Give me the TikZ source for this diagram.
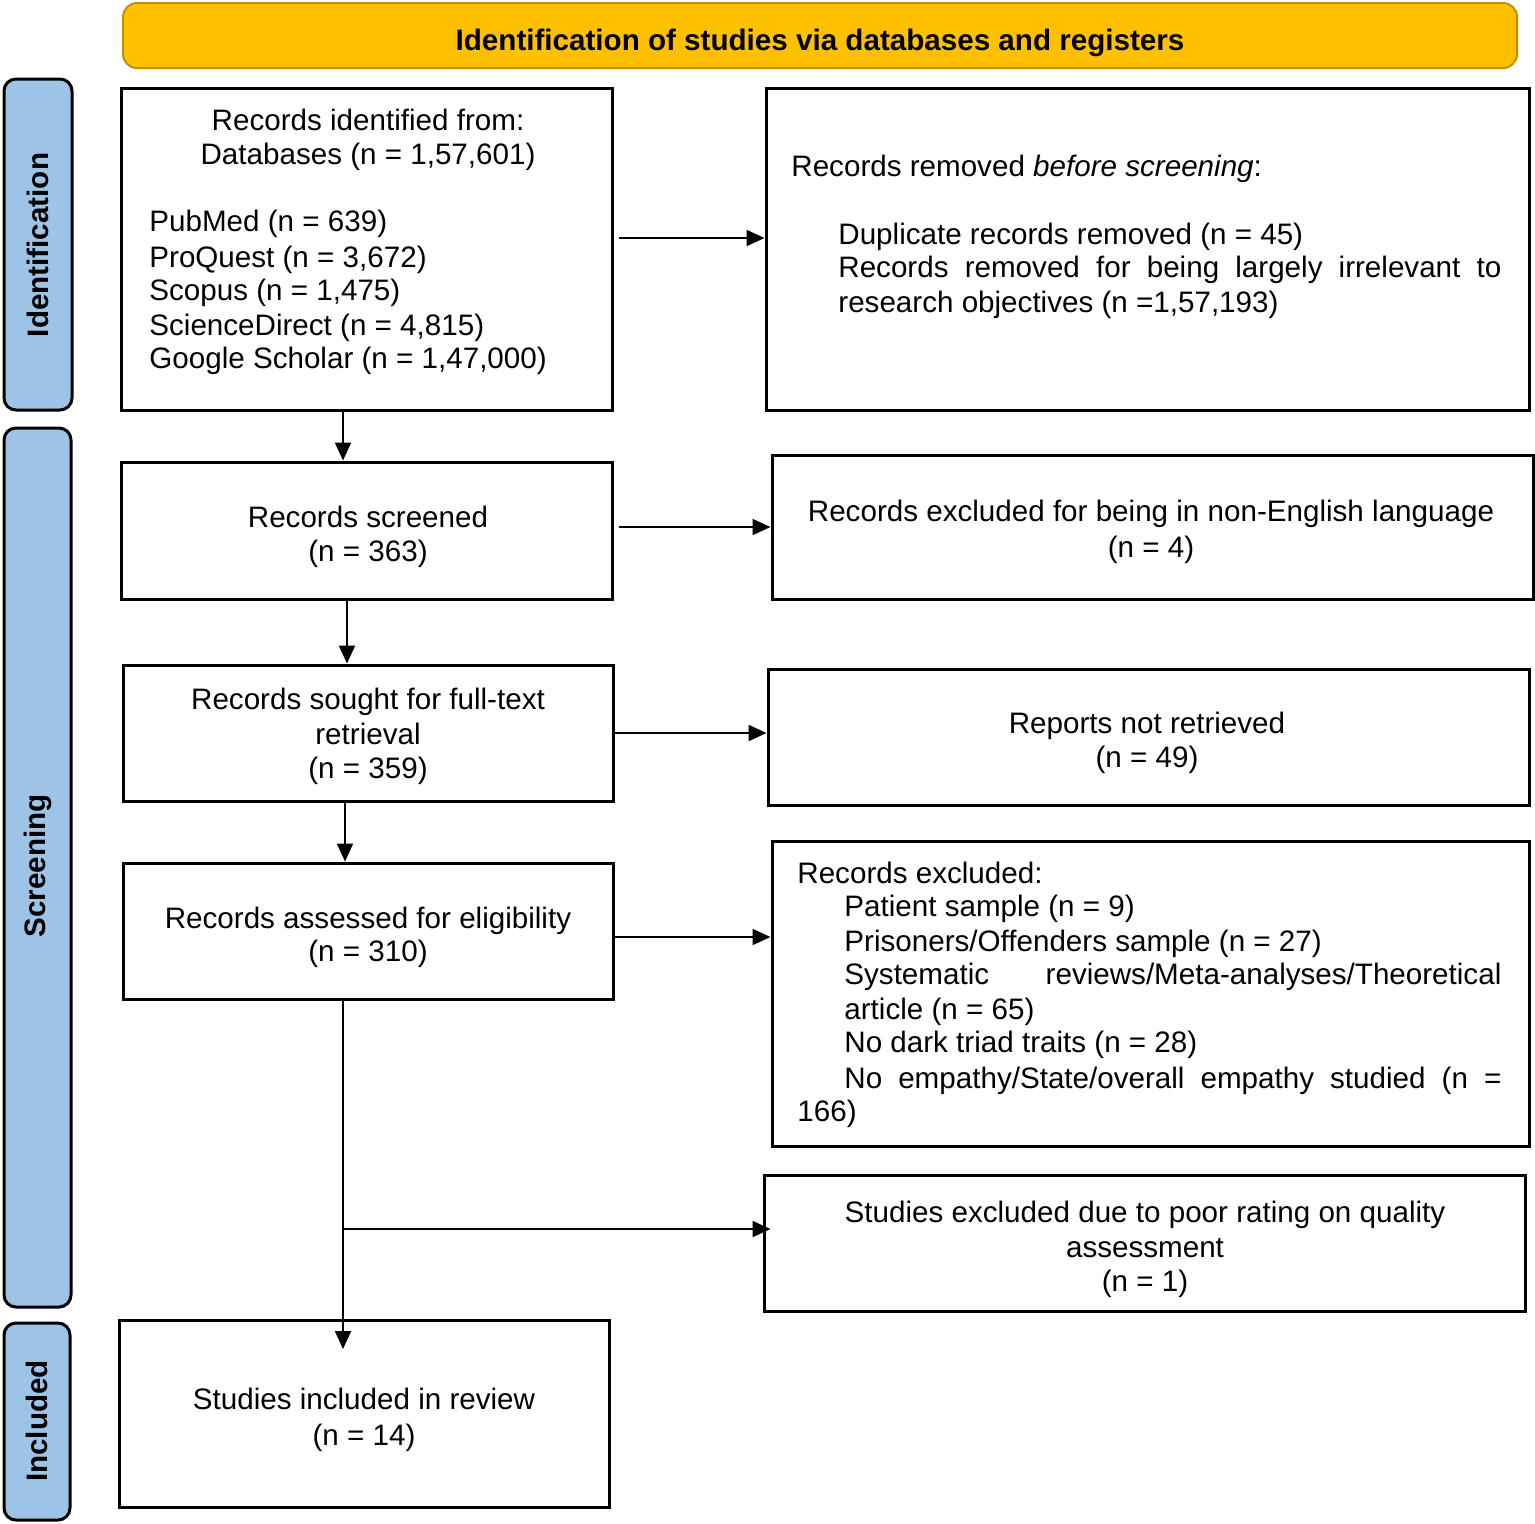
\documentclass[tikz,border=0pt]{standalone}
\usepackage{fontspec}
\setmainfont{Liberation Sans}
\usetikzlibrary{arrows.meta,fit}
\definecolor{hdrfill}{HTML}{FFC000}
\definecolor{hdrdraw}{HTML}{BF9000}
\definecolor{sidefill}{HTML}{9DC3E6}
\tikzset{
  box/.style={draw=black,line width=1.5pt,fill=white,inner sep=0pt},
  side/.style={draw=black,line width=1.5pt,fill=sidefill,rounded corners=6pt,inner sep=0pt},
  hdr/.style={draw=hdrdraw,line width=1pt,fill=hdrfill,rounded corners=7pt,inner sep=0pt},
  txt/.style={inner sep=0pt,font=\fontsize{14.8pt}{17pt}\selectfont},
  btxt/.style={inner sep=0pt,font=\fontsize{14.8pt}{17pt}\selectfont\bfseries},
  arr/.style={line width=1pt,-{Triangle[length=9pt,width=8pt]}},
  ln/.style={line width=1pt}
}
\begin{document}
\begin{tikzpicture}[x=0.5pt,y=-0.5pt]
\useasboundingbox (0,0) rectangle (1535,1523);
% header
\node[hdr,fit={(123,3)(1517,68)}] (hdr) {};
\node[btxt,anchor=base] (hdrt) at (820,50) {Identification of studies via databases and registers};
% side bars
\node[side,fit={(4,79)(72,410)}] (sid) {};
\node[btxt,rotate=90] (sidt) at (38,245) {Identification};
\node[side,fit={(4,428)(71,1307)}] (ssc) {};
\node[btxt,rotate=90] (ssct) at (38,866) {Screening};
\node[side,fit={(4,1323)(70,1520)}] (sin) {};
\node[btxt,rotate=90] (sint) at (37,1421) {Included};
% boxes
\node[box,fit={(121,88)(612,410)}] (b1) {};
\node[box,fit={(766,88)(1529,410)}] (r1) {};
\node[box,fit={(121,462)(612,599)}] (b2) {};
\node[box,fit={(772,455)(1533,599)}] (r2) {};
\node[box,fit={(123,665)(613,801)}] (b3) {};
\node[box,fit={(768,669)(1529,805)}] (r3) {};
\node[box,fit={(123,863)(613,999)}] (b4) {};
\node[box,fit={(772,841)(1529,1146)}] (r4) {};
\node[box,fit={(764,1175)(1525,1311)}] (r5) {};
\node[box,fit={(119,1320)(609,1507)}] (b5) {};
% texts b1
\node[txt,anchor=base] (b1a) at (368,130) {Records identified from:};
\node[txt,anchor=base] (b1b) at (368,164) {Databases (n = 1,57,601)};
\node[txt,anchor=base west] (b1c) at (149,231) {PubMed (n = 639)};
\node[txt,anchor=base west] (b1d) at (149,267) {ProQuest (n = 3,672)};
\node[txt,anchor=base west] (b1e) at (149,300) {Scopus (n = 1,475)};
\node[txt,anchor=base west] (b1f) at (149,335) {ScienceDirect (n = 4,815)};
\node[txt,anchor=base west] (b1g) at (149,368) {Google Scholar (n = 1,47,000)};
% r1
\node[txt,anchor=base west] (r1a) at (791,176) {Records removed \textit{before screening}:};
\node[txt,anchor=base west] (r1b) at (838,244) {Duplicate records removed (n = 45)};
\node[txt,anchor=base west] (r1c) at (838,277) {\makebox[331.5pt][s]{Records removed for being largely irrelevant to}};
\node[txt,anchor=base west] (r1d) at (838,312) {research objectives (n =1,57,193)};
% b2 r2
\node[txt,anchor=base] (b2a) at (368,527) {Records screened};
\node[txt,anchor=base] (b2b) at (368,561) {(n = 363)};
\node[txt,anchor=base] (r2a) at (1151,521) {Records excluded for being in non-English language};
\node[txt,anchor=base] (r2b) at (1151,557) {(n = 4)};
% b3 r3
\node[txt,anchor=base] (b3a) at (368,709) {Records sought for full-text};
\node[txt,anchor=base] (b3b) at (368,744) {retrieval};
\node[txt,anchor=base] (b3c) at (368,778) {(n = 359)};
\node[txt,anchor=base] (r3a) at (1147,733) {Reports not retrieved};
\node[txt,anchor=base] (r3b) at (1147,767) {(n = 49)};
% b4 r4
\node[txt,anchor=base] (b4a) at (368,928) {Records assessed for eligibility};
\node[txt,anchor=base] (b4b) at (368,961) {(n = 310)};
\node[txt,anchor=base west] (r4a) at (797,883) {Records excluded:};
\node[txt,anchor=base west] (r4b) at (844,916) {Patient sample (n = 9)};
\node[txt,anchor=base west] (r4c) at (844,951) {Prisoners/Offenders sample (n = 27)};
\node[txt,anchor=base west] (r4d) at (844,984) {\makebox[328.5pt][s]{Systematic reviews/Meta-analyses/Theoretical}};
\node[txt,anchor=base west] (r4e) at (844,1019) {article (n = 65)};
\node[txt,anchor=base west] (r4f) at (844,1052) {No dark triad traits (n = 28)};
\node[txt,anchor=base west] (r4g) at (844,1088) {\makebox[328.5pt][s]{No empathy/State/overall empathy studied (n =}};
\node[txt,anchor=base west] (r4h) at (797,1121) {166)};
% r5 b5
\node[txt,anchor=base] (r5a) at (1145,1222) {Studies excluded due to poor rating on quality};
\node[txt,anchor=base] (r5b) at (1145,1257) {assessment};
\node[txt,anchor=base] (r5c) at (1145,1291) {(n = 1)};
\node[txt,anchor=base] (b5a) at (364,1409) {Studies included in review};
\node[txt,anchor=base] (b5b) at (364,1445) {(n = 14)};
% connectors
\coordinate (j) at (343,1229);
\coordinate (c5) at (343,1349);
\draw[arr] ([xshift=2.5pt,yshift=5.5pt]b1.east) -- ([yshift=5.5pt]b1.east -| r1.west);
\draw[arr] ([xshift=-11.75pt]b1.south) -- ([xshift=-11.75pt]b1.south |- b2.north);
\draw[arr] ([xshift=2.5pt,yshift=1.75pt]b2.east) -- ([yshift=1.75pt]b2.east -| r2.west);
\draw[arr] ([xshift=-9.75pt]b2.south) -- ([xshift=-9.75pt]b2.south |- b3.north);
\draw[arr] (b3.east) -- (b3.east -| r3.west);
\draw[arr] ([xshift=-11.5pt]b3.south) -- ([xshift=-11.5pt]b3.south |- b4.north);
\draw[arr] ([yshift=-3pt]b4.east) -- ([yshift=-3pt]b4.east -| r4.west);
\draw[arr] (b4.south -| c5) -- (c5);
\draw[arr] (j) -- ([xshift=4pt]j -| r5.west);
\end{tikzpicture}
\end{document}
